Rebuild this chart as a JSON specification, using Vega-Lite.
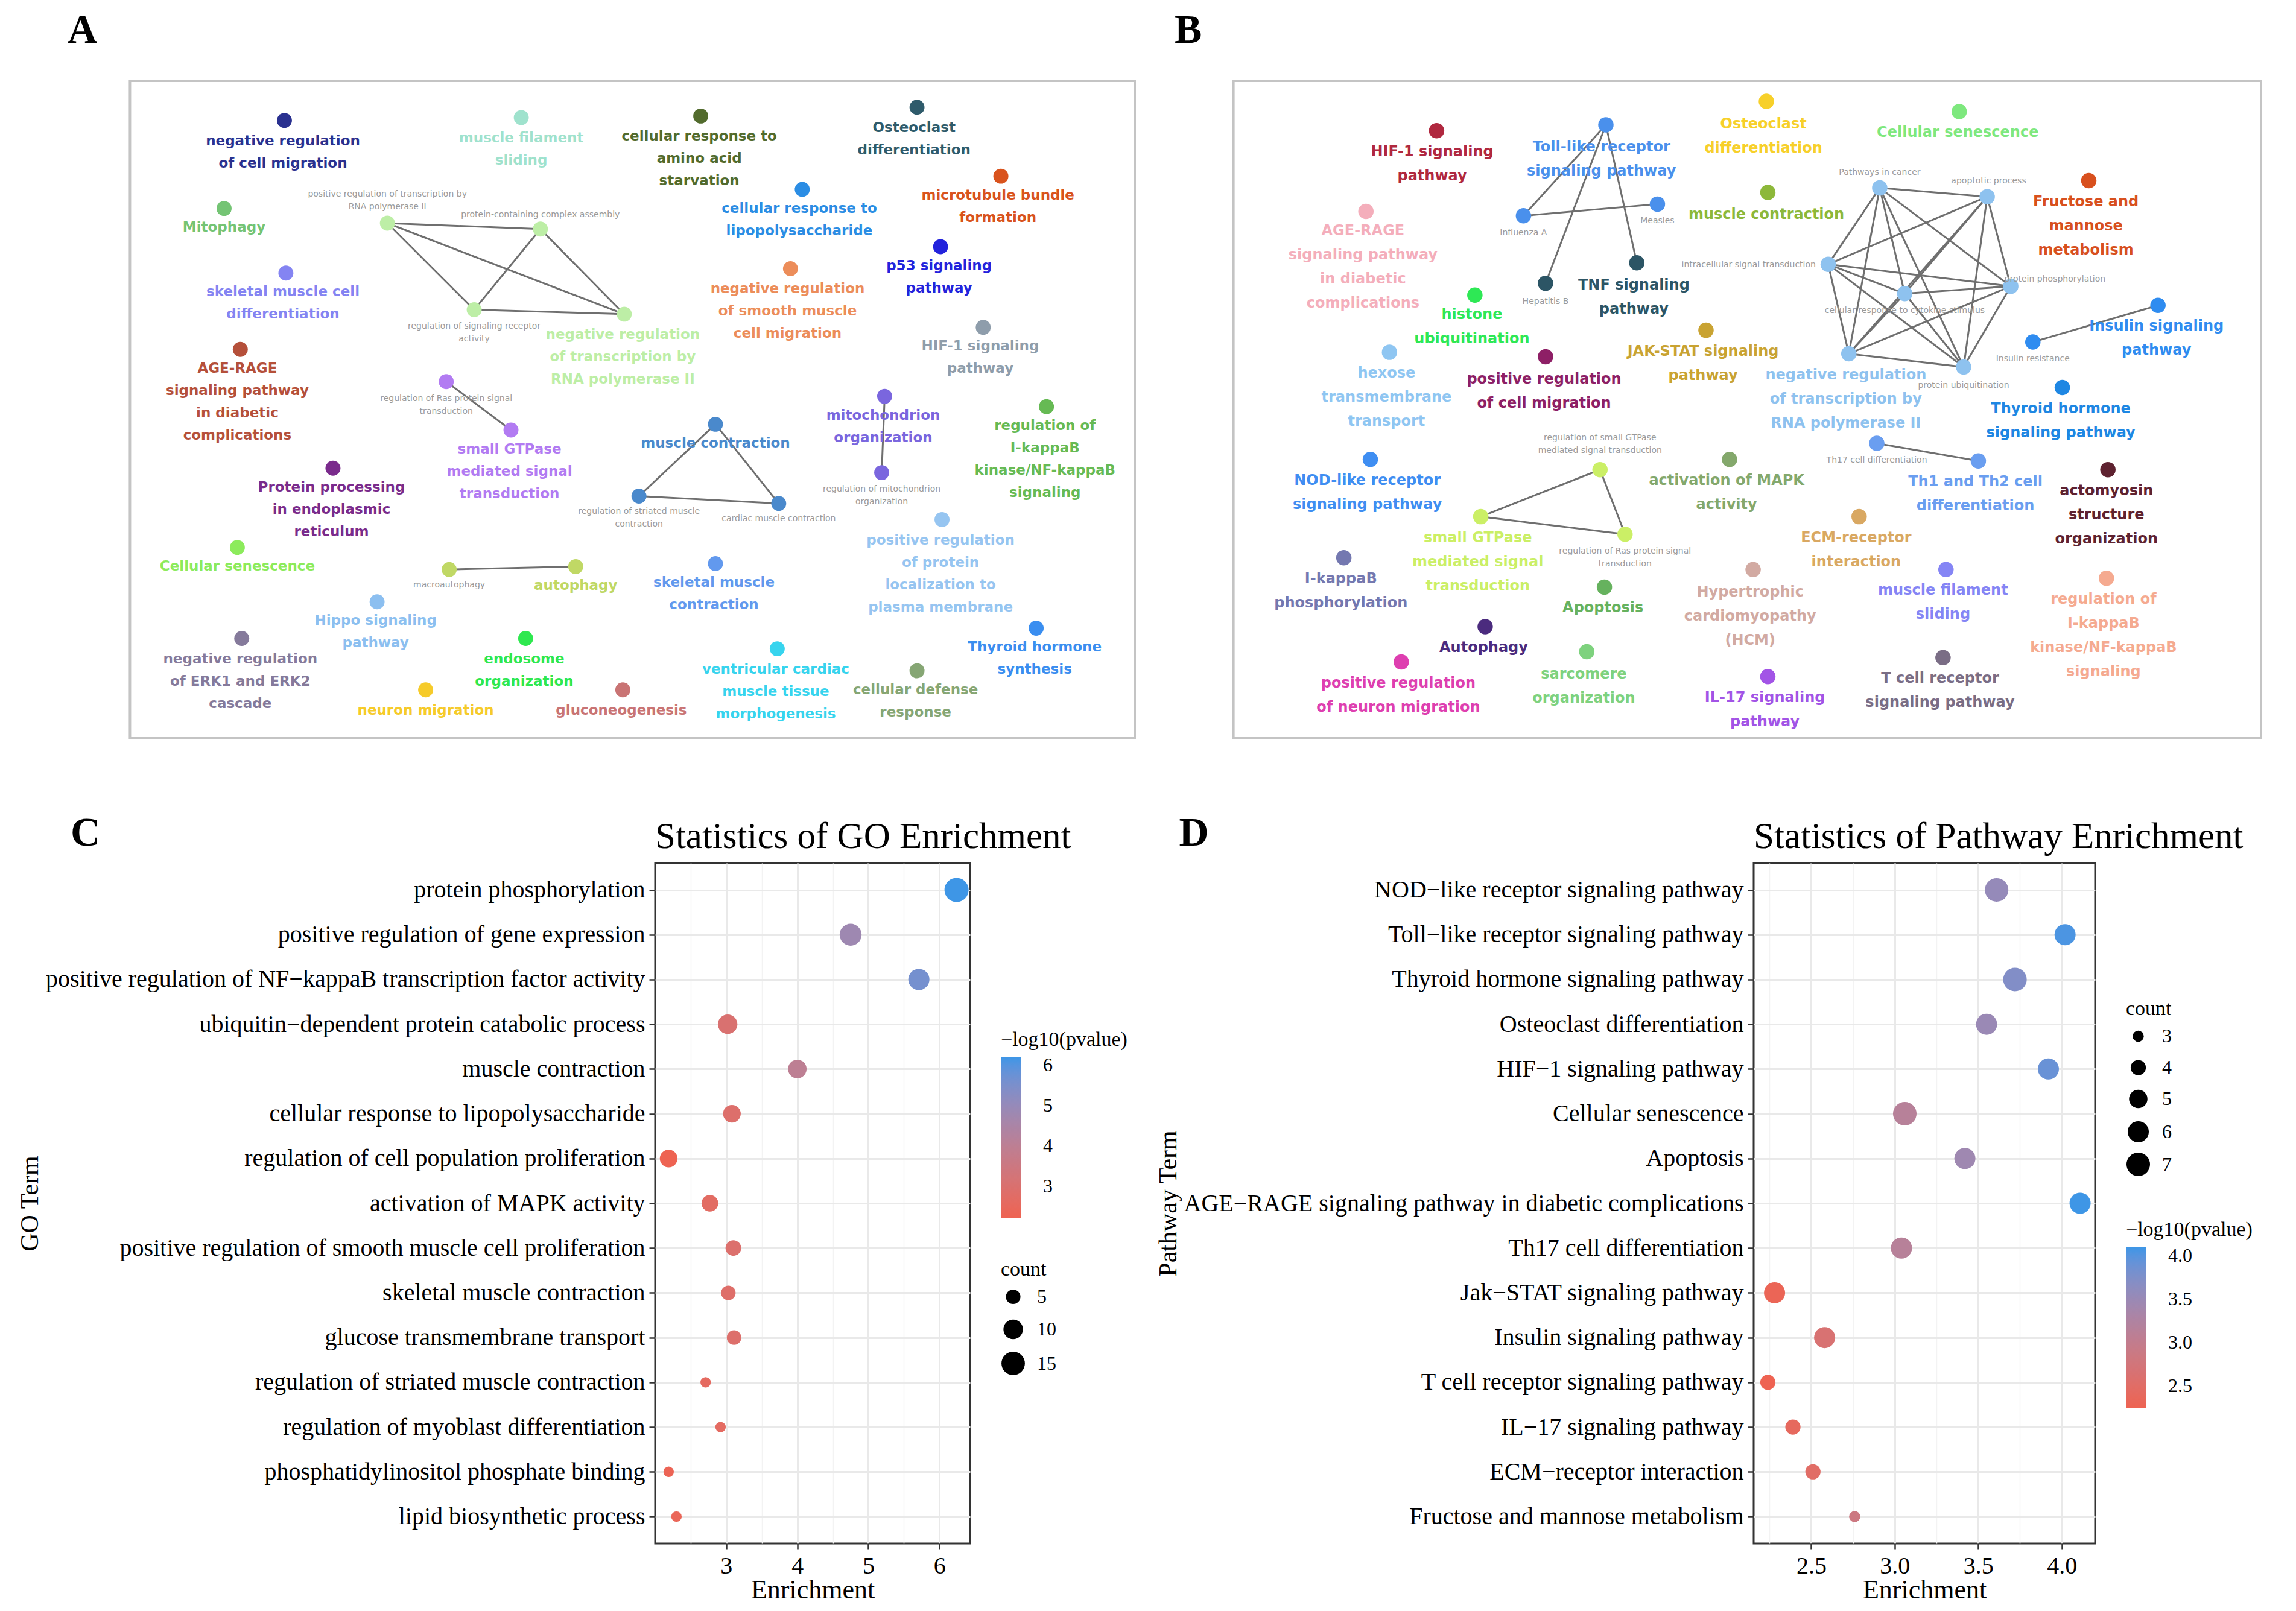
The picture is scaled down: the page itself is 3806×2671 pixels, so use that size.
{
"$schema": "https://vega.github.io/schema/vega-lite/v6.json",
"background": "white",
"padding": {"left": 27, "top": 17, "right": 20, "bottom": 2},
"config": {
  "view": {"stroke": null},
  "font": "Liberation Serif",
  "legend": {"layout": {"right": {"anchor": "middle", "direction": "vertical", "margin": 69}}, "padding": 0}
},
"datasets": {
  "nA": [
    {"x":195,"y":82,"g":"a01"},{"x":356,"y":80,"g":"a02"},{"x":478,"y":79,"g":"a03"},{"x":625,"y":73,"g":"a04"},
    {"x":682,"y":120,"g":"a05"},{"x":547,"y":129,"g":"a06"},{"x":641,"y":168,"g":"a07"},{"x":539,"y":183,"g":"a08"},
    {"x":670,"y":223,"g":"a09"},{"x":154,"y":142,"g":"a10"},{"x":196,"y":186,"g":"a11"},{"x":165,"y":238,"g":"a12"},
    {"x":265,"y":152,"g":"a13"},{"x":369,"y":156,"g":"a13"},{"x":324,"y":211,"g":"a13"},{"x":426,"y":214,"g":"a13"},
    {"x":305,"y":260,"g":"a14"},{"x":349,"y":293,"g":"a14"},{"x":228,"y":319,"g":"a15"},
    {"x":488,"y":289,"g":"a16"},{"x":436,"y":338,"g":"a16"},{"x":531,"y":343,"g":"a16"},
    {"x":603,"y":270,"g":"a17"},{"x":601,"y":322,"g":"a17"},{"x":713,"y":277,"g":"a18"},{"x":163,"y":373,"g":"a19"},
    {"x":307,"y":388,"g":"a20"},{"x":393,"y":386,"g":"a20"},{"x":642,"y":354,"g":"a21"},{"x":258,"y":410,"g":"a22"},
    {"x":488,"y":384,"g":"a23"},{"x":166,"y":435,"g":"a24"},{"x":359,"y":435,"g":"a25"},{"x":706,"y":428,"g":"a26"},
    {"x":530,"y":442,"g":"a27"},{"x":625,"y":457,"g":"a28"},{"x":291,"y":470,"g":"a29"},{"x":425,"y":470,"g":"a30"}
  ],
  "lA": [
    {"x":194,"y":96,"g":"a01","t":"negative regulation\nof cell migration","k":"b"},
    {"x":356,"y":94,"g":"a02","t":"muscle filament\nsliding","k":"b"},
    {"x":477,"y":93,"g":"a03","t":"cellular response to\namino acid\nstarvation","k":"b"},
    {"x":623,"y":87,"g":"a04","t":"Osteoclast\ndifferentiation","k":"b"},
    {"x":680,"y":133,"g":"a05","t":"microtubule bundle\nformation","k":"b"},
    {"x":545,"y":142,"g":"a06","t":"cellular response to\nlipopolysaccharide","k":"b"},
    {"x":640,"y":181,"g":"a07","t":"p53 signaling\npathway","k":"b"},
    {"x":537,"y":197,"g":"a08","t":"negative regulation\nof smooth muscle\ncell migration","k":"b"},
    {"x":668,"y":236,"g":"a09","t":"HIF-1 signaling\npathway","k":"b"},
    {"x":154,"y":155,"g":"a10","t":"Mitophagy","k":"b"},
    {"x":194,"y":199,"g":"a11","t":"skeletal muscle cell\ndifferentiation","k":"b"},
    {"x":163,"y":251,"g":"a12","t":"AGE-RAGE\nsignaling pathway\nin diabetic\ncomplications","k":"b"},
    {"x":425,"y":228,"g":"a13","t":"negative regulation\nof transcription by\nRNA polymerase II","k":"b"},
    {"x":348,"y":306,"g":"a14","t":"small GTPase\nmediated signal\ntransduction","k":"b"},
    {"x":227,"y":332,"g":"a15","t":"Protein processing\nin endoplasmic\nreticulum","k":"b"},
    {"x":488,"y":302,"g":"a16","t":"muscle contraction","k":"b"},
    {"x":602,"y":283,"g":"a17","t":"mitochondrion\norganization","k":"b"},
    {"x":712,"y":290,"g":"a18","t":"regulation of\nI-kappaB\nkinase/NF-kappaB\nsignaling","k":"b"},
    {"x":163,"y":386,"g":"a19","t":"Cellular senescence","k":"b"},
    {"x":393,"y":399,"g":"a20","t":"autophagy","k":"b"},
    {"x":641,"y":368,"g":"a21","t":"positive regulation\nof protein\nlocalization to\nplasma membrane","k":"b"},
    {"x":257,"y":423,"g":"a22","t":"Hippo signaling\npathway","k":"b"},
    {"x":487,"y":397,"g":"a23","t":"skeletal muscle\ncontraction","k":"b"},
    {"x":165,"y":449,"g":"a24","t":"negative regulation\nof ERK1 and ERK2\ncascade","k":"b"},
    {"x":358,"y":449,"g":"a25","t":"endosome\norganization","k":"b"},
    {"x":705,"y":441,"g":"a26","t":"Thyroid hormone\nsynthesis","k":"b"},
    {"x":529,"y":456,"g":"a27","t":"ventricular cardiac\nmuscle tissue\nmorphogenesis","k":"b"},
    {"x":624,"y":470,"g":"a28","t":"cellular defense\nresponse","k":"b"},
    {"x":291,"y":484,"g":"a29","t":"neuron migration","k":"b"},
    {"x":424,"y":484,"g":"a30","t":"gluconeogenesis","k":"b"},
    {"x":265,"y":132,"g":"a13","t":"positive regulation of transcription by\nRNA polymerase II","k":"s"},
    {"x":369,"y":146,"g":"a13","t":"protein-containing complex assembly","k":"s"},
    {"x":324,"y":222,"g":"a13","t":"regulation of signaling receptor\nactivity","k":"s"},
    {"x":305,"y":271,"g":"a14","t":"regulation of Ras protein signal\ntransduction","k":"s"},
    {"x":436,"y":348,"g":"a16","t":"regulation of striated muscle\ncontraction","k":"s"},
    {"x":531,"y":353,"g":"a16","t":"cardiac muscle contraction","k":"s"},
    {"x":601,"y":333,"g":"a17","t":"regulation of mitochondrion\norganization","k":"s"},
    {"x":307,"y":398,"g":"a20","t":"macroautophagy","k":"s"}
  ],
  "eA": [
    {"x":265,"y":152,"x2":369,"y2":156},{"x":265,"y":152,"x2":324,"y2":211},{"x":265,"y":152,"x2":426,"y2":214},
    {"x":369,"y":156,"x2":324,"y2":211},{"x":369,"y":156,"x2":426,"y2":214},{"x":324,"y":211,"x2":426,"y2":214},
    {"x":305,"y":260,"x2":349,"y2":293},{"x":488,"y":289,"x2":436,"y2":338},{"x":488,"y":289,"x2":531,"y2":343},
    {"x":436,"y":338,"x2":531,"y2":343},{"x":603,"y":270,"x2":601,"y2":322},{"x":307,"y":388,"x2":393,"y2":386}
  ],
  "nB": [
    {"x":978,"y":89,"g":"b01"},{"x":1093,"y":85,"g":"b02"},{"x":1037,"y":147,"g":"b02"},{"x":1128,"y":139,"g":"b02"},
    {"x":1114,"y":179,"g":"b03"},{"x":1052,"y":193,"g":"b03"},{"x":1202,"y":69,"g":"b04"},{"x":1333,"y":76,"g":"b05"},
    {"x":930,"y":144,"g":"b06"},{"x":1203,"y":131,"g":"b07"},
    {"x":1279,"y":128,"g":"b08"},{"x":1352,"y":134,"g":"b08"},{"x":1244,"y":180,"g":"b08"},{"x":1296,"y":200,"g":"b08"},
    {"x":1368,"y":195,"g":"b08"},{"x":1258,"y":241,"g":"b08"},{"x":1336,"y":250,"g":"b08"},
    {"x":1421,"y":123,"g":"b09"},{"x":1468,"y":208,"g":"b10"},{"x":1383,"y":233,"g":"b10"},{"x":1004,"y":201,"g":"b11"},
    {"x":1161,"y":225,"g":"b12"},{"x":1052,"y":243,"g":"b13"},{"x":946,"y":240,"g":"b14"},{"x":1403,"y":264,"g":"b15"},
    {"x":1346,"y":314,"g":"b16"},{"x":1277,"y":302,"g":"b16"},{"x":933,"y":313,"g":"b17"},
    {"x":1008,"y":352,"g":"b18"},{"x":1089,"y":320,"g":"b18"},{"x":1106,"y":364,"g":"b18"},
    {"x":1177,"y":313,"g":"b19"},{"x":1434,"y":320,"g":"b20"},{"x":1265,"y":352,"g":"b21"},{"x":915,"y":380,"g":"b22"},
    {"x":1193,"y":388,"g":"b23"},{"x":1092,"y":400,"g":"b24"},{"x":1324,"y":388,"g":"b25"},{"x":1433,"y":394,"g":"b26"},
    {"x":1011,"y":427,"g":"b27"},{"x":954,"y":451,"g":"b28"},{"x":1080,"y":444,"g":"b29"},{"x":1203,"y":461,"g":"b30"},
    {"x":1322,"y":448,"g":"b31"}
  ],
  "lB": [
    {"x":975,"y":103,"g":"b01","t":"HIF-1 signaling\npathway","k":"b"},
    {"x":1090,"y":100,"g":"b02","t":"Toll-like receptor\nsignaling pathway","k":"b"},
    {"x":1112,"y":194,"g":"b03","t":"TNF signaling\npathway","k":"b"},
    {"x":1200,"y":84,"g":"b04","t":"Osteoclast\ndifferentiation","k":"b"},
    {"x":1332,"y":90,"g":"b05","t":"Cellular senescence","k":"b"},
    {"x":928,"y":157,"g":"b06","t":"AGE-RAGE\nsignaling pathway\nin diabetic\ncomplications","k":"b"},
    {"x":1202,"y":146,"g":"b07","t":"muscle contraction","k":"b"},
    {"x":1256,"y":255,"g":"b08","t":"negative regulation\nof transcription by\nRNA polymerase II","k":"b"},
    {"x":1419,"y":137,"g":"b09","t":"Fructose and\nmannose\nmetabolism","k":"b"},
    {"x":1467,"y":222,"g":"b10","t":"Insulin signaling\npathway","k":"b"},
    {"x":1002,"y":214,"g":"b11","t":"histone\nubiquitination","k":"b"},
    {"x":1159,"y":239,"g":"b12","t":"JAK-STAT signaling\npathway","k":"b"},
    {"x":1051,"y":258,"g":"b13","t":"positive regulation\nof cell migration","k":"b"},
    {"x":944,"y":254,"g":"b14","t":"hexose\ntransmembrane\ntransport","k":"b"},
    {"x":1402,"y":278,"g":"b15","t":"Thyroid hormone\nsignaling pathway","k":"b"},
    {"x":1344,"y":328,"g":"b16","t":"Th1 and Th2 cell\ndifferentiation","k":"b"},
    {"x":931,"y":327,"g":"b17","t":"NOD-like receptor\nsignaling pathway","k":"b"},
    {"x":1006,"y":366,"g":"b18","t":"small GTPase\nmediated signal\ntransduction","k":"b"},
    {"x":1175,"y":327,"g":"b19","t":"activation of MAPK\nactivity","k":"b"},
    {"x":1433,"y":334,"g":"b20","t":"actomyosin\nstructure\norganization","k":"b"},
    {"x":1263,"y":366,"g":"b21","t":"ECM-receptor\ninteraction","k":"b"},
    {"x":913,"y":394,"g":"b22","t":"I-kappaB\nphosphorylation","k":"b"},
    {"x":1191,"y":403,"g":"b23","t":"Hypertrophic\ncardiomyopathy\n(HCM)","k":"b"},
    {"x":1091,"y":414,"g":"b24","t":"Apoptosis","k":"b"},
    {"x":1322,"y":402,"g":"b25","t":"muscle filament\nsliding","k":"b"},
    {"x":1431,"y":408,"g":"b26","t":"regulation of\nI-kappaB\nkinase/NF-kappaB\nsignaling","k":"b"},
    {"x":1010,"y":441,"g":"b27","t":"Autophagy","k":"b"},
    {"x":952,"y":465,"g":"b28","t":"positive regulation\nof neuron migration","k":"b"},
    {"x":1078,"y":459,"g":"b29","t":"sarcomere\norganization","k":"b"},
    {"x":1201,"y":475,"g":"b30","t":"IL-17 signaling\npathway","k":"b"},
    {"x":1320,"y":462,"g":"b31","t":"T cell receptor\nsignaling pathway","k":"b"},
    {"x":1037,"y":158,"g":"b02","t":"Influenza A","k":"s"},
    {"x":1128,"y":150,"g":"b02","t":"Measles","k":"s"},
    {"x":1052,"y":205,"g":"b03","t":"Hepatitis B","k":"s"},
    {"x":1279,"y":117,"g":"b08","t":"Pathways in cancer","k":"s"},
    {"x":1353,"y":123,"g":"b08","t":"apoptotic process","k":"s"},
    {"x":1190,"y":180,"g":"b08","t":"intracellular signal transduction","k":"s"},
    {"x":1296,"y":211,"g":"b08","t":"cellular response to cytokine stimulus","k":"s"},
    {"x":1398,"y":190,"g":"b08","t":"protein phosphorylation","k":"s"},
    {"x":1336,"y":262,"g":"b08","t":"protein ubiquitination","k":"s"},
    {"x":1383,"y":244,"g":"b10","t":"Insulin resistance","k":"s"},
    {"x":1277,"y":313,"g":"b16","t":"Th17 cell differentiation","k":"s"},
    {"x":1089,"y":298,"g":"b18","t":"regulation of small GTPase\nmediated signal transduction","k":"s"},
    {"x":1106,"y":375,"g":"b18","t":"regulation of Ras protein signal\ntransduction","k":"s"}
  ],
  "eB": [
    {"x":1093,"y":85,"x2":1037,"y2":147},{"x":1093,"y":85,"x2":1052,"y2":193},{"x":1093,"y":85,"x2":1114,"y2":179},
    {"x":1037,"y":147,"x2":1128,"y2":139},
    {"x":1279,"y":128,"x2":1352,"y2":134},{"x":1279,"y":128,"x2":1244,"y2":180},{"x":1279,"y":128,"x2":1296,"y2":200},
    {"x":1279,"y":128,"x2":1368,"y2":195},{"x":1279,"y":128,"x2":1258,"y2":241},{"x":1279,"y":128,"x2":1336,"y2":250},
    {"x":1352,"y":134,"x2":1244,"y2":180},{"x":1352,"y":134,"x2":1296,"y2":200},{"x":1352,"y":134,"x2":1368,"y2":195},
    {"x":1352,"y":134,"x2":1258,"y2":241},{"x":1352,"y":134,"x2":1336,"y2":250},
    {"x":1244,"y":180,"x2":1296,"y2":200},{"x":1244,"y":180,"x2":1368,"y2":195},{"x":1244,"y":180,"x2":1258,"y2":241},
    {"x":1244,"y":180,"x2":1336,"y2":250},
    {"x":1296,"y":200,"x2":1368,"y2":195},{"x":1296,"y":200,"x2":1258,"y2":241},{"x":1296,"y":200,"x2":1336,"y2":250},
    {"x":1368,"y":195,"x2":1258,"y2":241},{"x":1368,"y":195,"x2":1336,"y2":250},{"x":1258,"y":241,"x2":1336,"y2":250},
    {"x":1383,"y":233,"x2":1468,"y2":208},{"x":1277,"y":302,"x2":1346,"y2":314},
    {"x":1089,"y":320,"x2":1008,"y2":352},{"x":1089,"y":320,"x2":1106,"y2":364},{"x":1008,"y":352,"x2":1106,"y2":364}
  ],
  "go": [
    {"term":"protein phosphorylation","enrichment":6.24,"count":16,"logp":6.19},
    {"term":"positive regulation of gene expression","enrichment":4.75,"count":13,"logp":4.8},
    {"term":"positive regulation of NF−kappaB transcription factor activity","enrichment":5.71,"count":12,"logp":5.6},
    {"term":"ubiquitin−dependent protein catabolic process","enrichment":3.02,"count":10,"logp":3.05},
    {"term":"muscle contraction","enrichment":4.0,"count":9,"logp":4.0},
    {"term":"cellular response to lipopolysaccharide","enrichment":3.08,"count":8,"logp":2.9},
    {"term":"regulation of cell population proliferation","enrichment":2.19,"count":8,"logp":2.23},
    {"term":"activation of MAPK activity","enrichment":2.77,"count":7,"logp":2.7},
    {"term":"positive regulation of smooth muscle cell proliferation","enrichment":3.1,"count":6,"logp":2.95},
    {"term":"skeletal muscle contraction","enrichment":3.03,"count":5,"logp":2.85},
    {"term":"glucose transmembrane transport","enrichment":3.11,"count":5,"logp":2.9},
    {"term":"regulation of striated muscle contraction","enrichment":2.71,"count":2,"logp":2.6},
    {"term":"regulation of myoblast differentiation","enrichment":2.92,"count":2,"logp":2.65},
    {"term":"phosphatidylinositol phosphate binding","enrichment":2.19,"count":2,"logp":2.3},
    {"term":"lipid biosynthetic process","enrichment":2.3,"count":2,"logp":2.4}
  ],
  "pw": [
    {"term":"NOD−like receptor signaling pathway","enrichment":3.61,"count":7,"logp":3.55},
    {"term":"Toll−like receptor signaling pathway","enrichment":4.02,"count":6,"logp":4.05},
    {"term":"Thyroid hormone signaling pathway","enrichment":3.72,"count":7,"logp":3.72},
    {"term":"Osteoclast differentiation","enrichment":3.55,"count":6,"logp":3.5},
    {"term":"HIF−1 signaling pathway","enrichment":3.92,"count":6,"logp":3.9},
    {"term":"Cellular senescence","enrichment":3.06,"count":7,"logp":3.15},
    {"term":"Apoptosis","enrichment":3.42,"count":6,"logp":3.45},
    {"term":"AGE−RAGE signaling pathway in diabetic complications","enrichment":4.11,"count":6,"logp":4.1},
    {"term":"Th17 cell differentiation","enrichment":3.04,"count":6,"logp":3.15},
    {"term":"Jak−STAT signaling pathway","enrichment":2.28,"count":6,"logp":2.3},
    {"term":"Insulin signaling pathway","enrichment":2.58,"count":6,"logp":2.65},
    {"term":"T cell receptor signaling pathway","enrichment":2.24,"count":4,"logp":2.25},
    {"term":"IL−17 signaling pathway","enrichment":2.39,"count":4,"logp":2.4},
    {"term":"ECM−receptor interaction","enrichment":2.51,"count":4,"logp":2.5},
    {"term":"Fructose and mannose metabolism","enrichment":2.76,"count":3,"logp":2.85}
  ]
},
"resolve": {"scale": {"color": "independent", "size": "independent"}},
"spacing": 121,
"vconcat": [
  {
    "resolve": {"scale": {"color": "independent", "size": "independent"}},
    "spacing": 64,
    "hconcat": [
      {
        "width": 795, "height": 1090,
        "view": {"stroke": null},
        "title": {"text": "A", "anchor": "start", "frame": "group", "dx": -974, "offset": -7, "fontSize": 68, "font": "Liberation Serif", "fontWeight": "bold", "baseline": "alphabetic", "color": "black"},
        "encoding": {
          "x": {"field": "x", "type": "quantitative", "scale": {"domain": [447, 773], "nice": false, "zero": false}, "axis": null},
          "y": {"field": "y", "type": "quantitative", "scale": {"domain": [55, 503], "nice": false, "zero": false, "reverse": true}, "axis": null}
        },
        "layer": [
          {"data": {"values": [{"x": 90, "y": 55, "x2": 773, "y2": 503}]}, "mark": {"type": "rect", "filled": false, "stroke": "#c4c4c4", "strokeWidth": 4}, "encoding": {"x2": {"field": "x2"}, "y2": {"field": "y2"}}},
          {"data": {"name": "eA"}, "mark": {"type": "rule", "color": "#6f6f6f", "strokeWidth": 3}, "encoding": {"x2": {"field": "x2"}, "y2": {"field": "y2"}}},
          {"data": {"name": "nA"}, "mark": {"type": "circle", "size": 620, "opacity": 1},
           "encoding": {"color": {"field": "g", "type": "nominal", "legend": null, "scale": {
             "domain": ["a01","a02","a03","a04","a05","a06","a07","a08","a09","a10","a11","a12","a13","a14","a15","a16","a17","a18","a19","a20","a21","a22","a23","a24","a25","a26","a27","a28","a29","a30"],
             "range": ["#2a3190","#9fe2cd","#526b2d","#2f5b6b","#d9531d","#2b8de4","#2323dc","#ec8d5a","#8e9dab","#74c474","#8484f2","#b5503a","#bdeea6","#b27bf2","#7a2b8c","#4a89cc","#7a66de","#66ba54","#8ceb5c","#c0d865","#96c5f1","#8cbff0","#6299ee","#857a9b","#2ee84f","#3a8ef0","#37d4ee","#86a674","#f6cb2a","#c97474"]}}}},
          {"data": {"name": "lA"}, "transform": [{"filter": "datum.k === 'b'"}],
           "mark": {"type": "text", "font": "DejaVu Sans", "fontWeight": "bold", "fontSize": 23, "lineHeight": 37, "lineBreak": "\n", "align": "center", "baseline": "top", "dy": -11},
           "encoding": {"text": {"field": "t"}, "color": {"field": "g", "type": "nominal", "legend": null}}},
          {"data": {"name": "lA"}, "transform": [{"filter": "datum.k === 's'"}],
           "mark": {"type": "text", "font": "DejaVu Sans", "fontSize": 14, "lineHeight": 21, "lineBreak": "\n", "align": "center", "baseline": "top", "dy": -6, "color": "#9a9a9a"},
           "encoding": {"text": {"field": "t"}}}
        ]
      },
      {
        "width": 1801, "height": 1090,
        "view": {"stroke": null},
        "title": {"text": "B", "anchor": "start", "frame": "group", "dx": 0, "offset": -7, "fontSize": 68, "font": "Liberation Serif", "fontWeight": "bold", "baseline": "alphabetic", "color": "black"},
        "encoding": {
          "x": {"field": "x", "type": "quantitative", "scale": {"domain": [800, 1538], "nice": false, "zero": false}, "axis": null},
          "y": {"field": "y", "type": "quantitative", "scale": {"domain": [55, 503], "nice": false, "zero": false, "reverse": true}, "axis": null}
        },
        "layer": [
          {"data": {"values": [{"x": 840, "y": 55, "x2": 1538, "y2": 503}]}, "mark": {"type": "rect", "filled": false, "stroke": "#c4c4c4", "strokeWidth": 4}, "encoding": {"x2": {"field": "x2"}, "y2": {"field": "y2"}}},
          {"data": {"name": "eB"}, "mark": {"type": "rule", "color": "#6f6f6f", "strokeWidth": 3}, "encoding": {"x2": {"field": "x2"}, "y2": {"field": "y2"}}},
          {"data": {"name": "nB"}, "mark": {"type": "circle", "size": 650, "opacity": 1},
           "encoding": {"color": {"field": "g", "type": "nominal", "legend": null, "scale": {
             "domain": ["b01","b02","b03","b04","b05","b06","b07","b08","b09","b10","b11","b12","b13","b14","b15","b16","b17","b18","b19","b20","b21","b22","b23","b24","b25","b26","b27","b28","b29","b30","b31"],
             "range": ["#b0283f","#4a90ec","#2c5565","#f7d02a","#7ee87e","#f4aebb","#8db83a","#8ec2ef","#d8501e","#2f8cf0","#2ee855","#c9a332","#8e1f66","#8fc6f2","#1e87e3","#6a9ef0","#3f8ef2","#cbef66","#84a86c","#5e2230","#d9a862","#7478b0","#d2aaa2","#66b25e","#8585f5","#f5aa90","#4b2b7e","#de3fb0","#7ed27e","#a254e6","#7a6d85"]}}}},
          {"data": {"name": "lB"}, "transform": [{"filter": "datum.k === 'b'"}],
           "mark": {"type": "text", "font": "DejaVu Sans", "fontWeight": "bold", "fontSize": 24, "lineHeight": 40, "lineBreak": "\n", "align": "center", "baseline": "top", "dy": -11},
           "encoding": {"text": {"field": "t"}, "color": {"field": "g", "type": "nominal", "legend": null}}},
          {"data": {"name": "lB"}, "transform": [{"filter": "datum.k === 's'"}],
           "mark": {"type": "text", "font": "DejaVu Sans", "fontSize": 14, "lineHeight": 21, "lineBreak": "\n", "align": "center", "baseline": "top", "dy": -6, "color": "#9a9a9a"},
           "encoding": {"text": {"field": "t"}}}
        ]
      }
    ]
  },
  {
    "resolve": {"scale": {"color": "independent", "size": "independent"}},
    "spacing": 42,
    "hconcat": [
      {
        "resolve": {"scale": {"color": "independent", "size": "independent"}},
        "title": {"text": "C", "anchor": "start", "frame": "bounds", "dx": 90, "offset": -114, "fontSize": 68, "font": "Liberation Serif", "fontWeight": "bold", "baseline": "alphabetic", "color": "black"},
        "vconcat": [
          {
            "width": 522, "height": 1128,
            "view": {"stroke": "#333333", "strokeWidth": 3},
            "title": {"text": "Statistics of GO Enrichment", "anchor": "start", "frame": "group", "offset": -36, "fontSize": 61, "font": "Liberation Serif", "fontWeight": "normal", "baseline": "alphabetic", "color": "black"},
            "data": {"name": "go"},
            "mark": {"type": "circle", "opacity": 1},
            "encoding": {
              "x": {"field": "enrichment", "type": "quantitative", "title": "Enrichment",
                    "scale": {"domain": [2.0, 6.43], "nice": false, "zero": false},
                    "axis": {"values": [2.5,3,3.5,4,4.5,5,5.5,6], "labelExpr": "datum.value % 1 === 0 ? format(datum.value, 'd') : ''",
                             "domain": false, "grid": true,
                             "gridColor": {"condition": {"test": "datum.value % 1 !== 0", "value": "#f3f3f3"}, "value": "#e9e9e9"},
                             "gridWidth": {"condition": {"test": "datum.value % 1 !== 0", "value": 1.5}, "value": 3},
                             "tickColor": {"condition": {"test": "datum.value % 1 !== 0", "value": "transparent"}, "value": "#333333"},
                             "tickSize": 10, "tickWidth": 2.5, "labelFont": "Liberation Serif", "labelFontSize": 40, "labelColor": "black", "labelPadding": 7,
                             "titleFont": "Liberation Serif", "titleFontSize": 44, "titleFontWeight": "normal", "titleColor": "black", "titlePadding": -2}},
              "y": {"field": "term", "type": "nominal", "sort": null, "title": "GO Term", "scale": {"padding": 0.6},
                    "axis": {"domain": false, "grid": true, "gridColor": "#e9e9e9", "gridWidth": 3, "tickSize": 10, "tickWidth": 2.5, "tickColor": "#333333",
                             "labelFont": "Liberation Serif", "labelFontSize": 40, "labelColor": "black", "labelLimit": 3000, "labelPadding": 7, "maxExtent": 1500,
                             "titleFont": "Liberation Serif", "titleFontSize": 42, "titleFontWeight": "normal", "titleColor": "black", "titlePadding": 4}},
              "color": {"field": "logp", "type": "quantitative", "scale": {"domain": [2.23, 6.19], "range": ["#ee6352", "#3e96e6"], "interpolate": "lab"},
                        "legend": {"title": "−log10(pvalue)", "values": [3,4,5,6], "gradientLength": 266, "gradientThickness": 34, "gradientStrokeWidth": 0,
                                   "labelFont": "Liberation Serif", "labelFontSize": 32, "labelColor": "black", "labelOffset": 36,
                                   "titleFont": "Liberation Serif", "titleFontSize": 34, "titleFontWeight": "normal", "titleColor": "black", "titlePadding": 12, "titleLimit": 600, "offset": 51}},
              "size": {"field": "count", "type": "quantitative", "scale": {"domain": [2, 16], "range": [300, 1600]},
                       "legend": {"title": "count", "values": [5,10,15], "symbolType": "circle", "gridAlign": "all", "rowPadding": 7,
                                  "labelFont": "Liberation Serif", "labelFontSize": 32, "labelColor": "black", "labelOffset": 19,
                                  "titleFont": "Liberation Serif", "titleFontSize": 34, "titleFontWeight": "normal", "titleColor": "black", "titlePadding": 12, "offset": 51}}
            }
          }
        ]
      },
      {
        "resolve": {"scale": {"color": "independent", "size": "independent"}},
        "title": {"text": "D", "anchor": "start", "frame": "bounds", "dx": 41, "offset": -114, "fontSize": 68, "font": "Liberation Serif", "fontWeight": "bold", "baseline": "alphabetic", "color": "black"},
        "vconcat": [
          {
            "width": 566, "height": 1128,
            "view": {"stroke": "#333333", "strokeWidth": 3},
            "title": {"text": "Statistics of Pathway Enrichment", "anchor": "start", "frame": "group", "offset": -36, "fontSize": 61, "font": "Liberation Serif", "fontWeight": "normal", "baseline": "alphabetic", "color": "black"},
            "data": {"name": "pw"},
            "encoding": {
              "x": {"field": "enrichment", "type": "quantitative", "title": "Enrichment",
                    "scale": {"domain": [2.155, 4.2], "nice": false, "zero": false},
                    "axis": {"values": [2.25,2.5,2.75,3,3.25,3.5,3.75,4], "labelExpr": "datum.value % 0.5 === 0 ? format(datum.value, '.1f') : ''",
                             "domain": false, "grid": true,
                             "gridColor": {"condition": {"test": "datum.value % 0.5 !== 0", "value": "#f3f3f3"}, "value": "#e9e9e9"},
                             "gridWidth": {"condition": {"test": "datum.value % 0.5 !== 0", "value": 1.5}, "value": 3},
                             "tickColor": {"condition": {"test": "datum.value % 0.5 !== 0", "value": "transparent"}, "value": "#333333"},
                             "tickSize": 10, "tickWidth": 2.5, "labelFont": "Liberation Serif", "labelFontSize": 40, "labelColor": "black", "labelPadding": 7,
                             "titleFont": "Liberation Serif", "titleFontSize": 44, "titleFontWeight": "normal", "titleColor": "black", "titlePadding": -2}},
              "y": {"field": "term", "type": "nominal", "sort": null, "title": "Pathway Term", "scale": {"padding": 0.6},
                    "axis": {"domain": false, "grid": true, "gridColor": "#e9e9e9", "gridWidth": 3, "tickSize": 10, "tickWidth": 2.5, "tickColor": "#333333",
                             "labelFont": "Liberation Serif", "labelFontSize": 40, "labelColor": "black", "labelLimit": 3000, "labelPadding": 7, "maxExtent": 1500,
                             "titleFont": "Liberation Serif", "titleFontSize": 42, "titleFontWeight": "normal", "titleColor": "black", "titlePadding": 4}}
            },
            "layer": [
              {
                "transform": [{"filter": "false"}],
                "mark": {"type": "circle", "opacity": 1, "color": "black"},
                "encoding": {
                  "size": {"field": "count", "type": "quantitative", "scale": {"domain": [3, 7], "range": [340, 1520]},
                           "legend": {"title": "count", "values": [3,4,5,6,7], "symbolType": "circle", "gridAlign": "all", "rowPadding": 6,
                                      "labelFont": "Liberation Serif", "labelFontSize": 32, "labelColor": "black", "labelOffset": 19,
                                      "titleFont": "Liberation Serif", "titleFontSize": 34, "titleFontWeight": "normal", "titleColor": "black", "titlePadding": 12, "offset": 51}}
                }
              },
              {
                "mark": {"type": "circle", "opacity": 1},
                "encoding": {
                  "size": {"field": "count", "type": "quantitative", "scale": {"domain": [3, 7], "range": [340, 1520]}, "legend": null},
                  "color": {"field": "logp", "type": "quantitative", "scale": {"domain": [2.25, 4.1], "range": ["#ee6352", "#3e96e6"], "interpolate": "lab"},
                            "legend": {"title": "−log10(pvalue)", "values": [2.5,3,3.5,4], "format": ".1f", "gradientLength": 266, "gradientThickness": 34, "gradientStrokeWidth": 0,
                                       "labelFont": "Liberation Serif", "labelFontSize": 32, "labelColor": "black", "labelOffset": 36,
                                       "titleFont": "Liberation Serif", "titleFontSize": 34, "titleFontWeight": "normal", "titleColor": "black", "titlePadding": 12, "titleLimit": 600, "offset": 51}}
                }
              }
            ]
          }
        ]
      }
    ]
  }
]
}
